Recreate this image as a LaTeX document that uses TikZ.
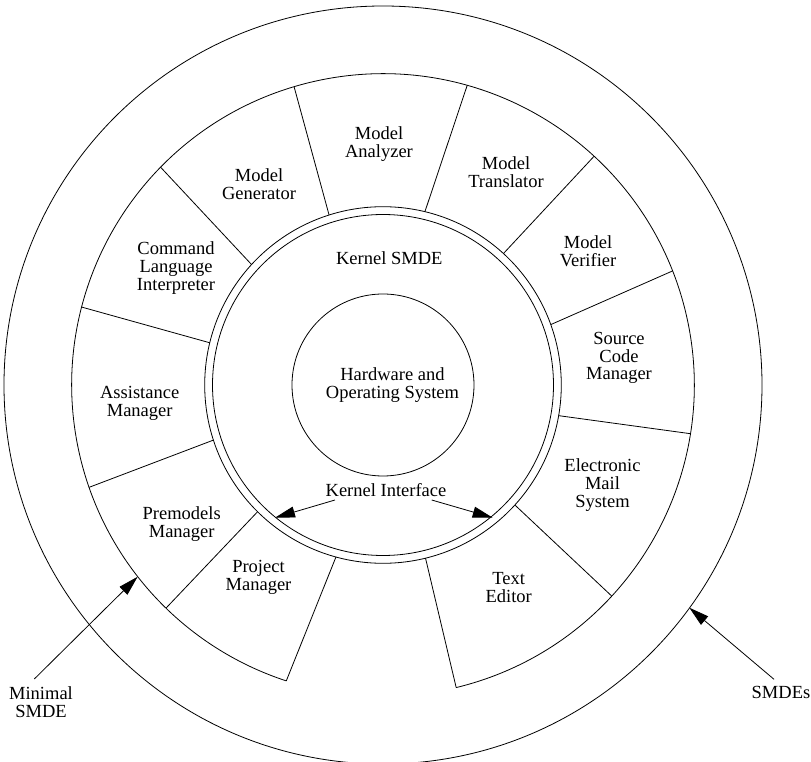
\documentclass[tikz,border=0pt]{standalone}
\usepackage{fontspec}
\setmainfont{Liberation Serif}
\usetikzlibrary{arrows.meta}
\begin{document}
\begin{tikzpicture}[x=1pt,y=1pt,line width=0.8pt,
  lbl/.style={font=\fontsize{18.5}{17.8}\selectfont,align=center,inner sep=0pt,anchor=north},
  arr/.style={-{Triangle[length=20pt,width=11pt]}},
  divider/.style={line width=0.8pt}]
\useasboundingbox (-383,-377) rectangle (428,385);
% circles
\draw (0,0) circle[radius=379];
\draw (0,0) circle[radius=91];
\draw (0,0) circle[radius=178.3];
\draw (0,0) circle[radius=170.5];
% minimal SMDE ring (open at the bottom)
\draw (-76.4:311.3) arc[start angle=-76.4,end angle=251.9,radius=311.3];
% segment dividers
\draw[divider] (107.6:178.3) -- (106.6:311.3);
\draw[divider] (76.4:178.3) -- (74.3:311.3);
\draw[divider] (47.5:178.3) -- (47.3:311.3);
\draw[divider] (19.8:178.3) -- (21.5:311.3);
\draw[divider] (-9.9:178.3) -- (-9.0:311.3);
\draw[divider] (-42.3:178.3) -- (-42.7:311.3);
\draw[divider] (-76.2:178.3) -- (-76.4:311.3);
\draw[divider] (-105.3:178.3) -- (-108.1:311.3);
\draw[divider] (-134.7:178.3) -- (-134.2:311.3);
\draw[divider] (-162:178.3) -- (-160.8:311.3);
\draw[divider] (166.3:178.3) -- (165.5:311.3);
\draw[divider] (137.5:178.3) -- (135.6:311.3);
% labels
\node[lbl] (hw) at (9.5,18) {Hardware and\\Operating System};
\node[lbl] (ks) at (6.3,133.3) {Kernel SMDE};
\node[lbl] (ki) at (3,-98) {Kernel Interface};
\node[lbl] (ma) at (-4,258.3) {Model\\Analyzer};
\node[lbl] (mg) at (-124,216.7) {Model\\Generator};
\node[lbl] (mt) at (123,228.3) {Model\\Translator};
\node[lbl] (mv) at (205,150) {Model\\Verifier};
\node[lbl] (sc) at (236,53.3) {Source\\Code\\Manager};
\node[lbl] (em) at (219.5,-73.3) {Electronic\\Mail\\System};
\node[lbl] (te) at (125.7,-186.7) {Text\\Editor};
\node[lbl] (pm) at (-124.5,-175) {Project\\Manager};
\node[lbl] (prm) at (-201.3,-121) {Premodels\\Manager};
\node[lbl] (am) at (-243.3,-1) {Assistance\\Manager};
\node[lbl] (cli) at (-207,143.3) {Command\\Language\\Interpreter};
\node[lbl] (ms) at (-342,-301) {Minimal\\SMDE};
\node[lbl] (sm) at (398,-301) {SMDEs};
% arrow end points
\coordinate (kiL) at (-48,-115);
\coordinate (kiLt) at (-108,-132.7);
\coordinate (kiR) at (48.7,-115);
\coordinate (kiRt) at (109.7,-132.7);
\coordinate (msS) at (-348.7,-294);
\coordinate (msT) at (-245.3,-191.7);
\coordinate (smS) at (391,-294.3);
\coordinate (smT) at (306.3,-222.7);
\draw[arr] (kiL) -- (kiLt);
\draw[arr] (kiR) -- (kiRt);
\draw[arr] (msS) -- (msT);
\draw[arr] (smS) -- (smT);
\end{tikzpicture}
\end{document}
